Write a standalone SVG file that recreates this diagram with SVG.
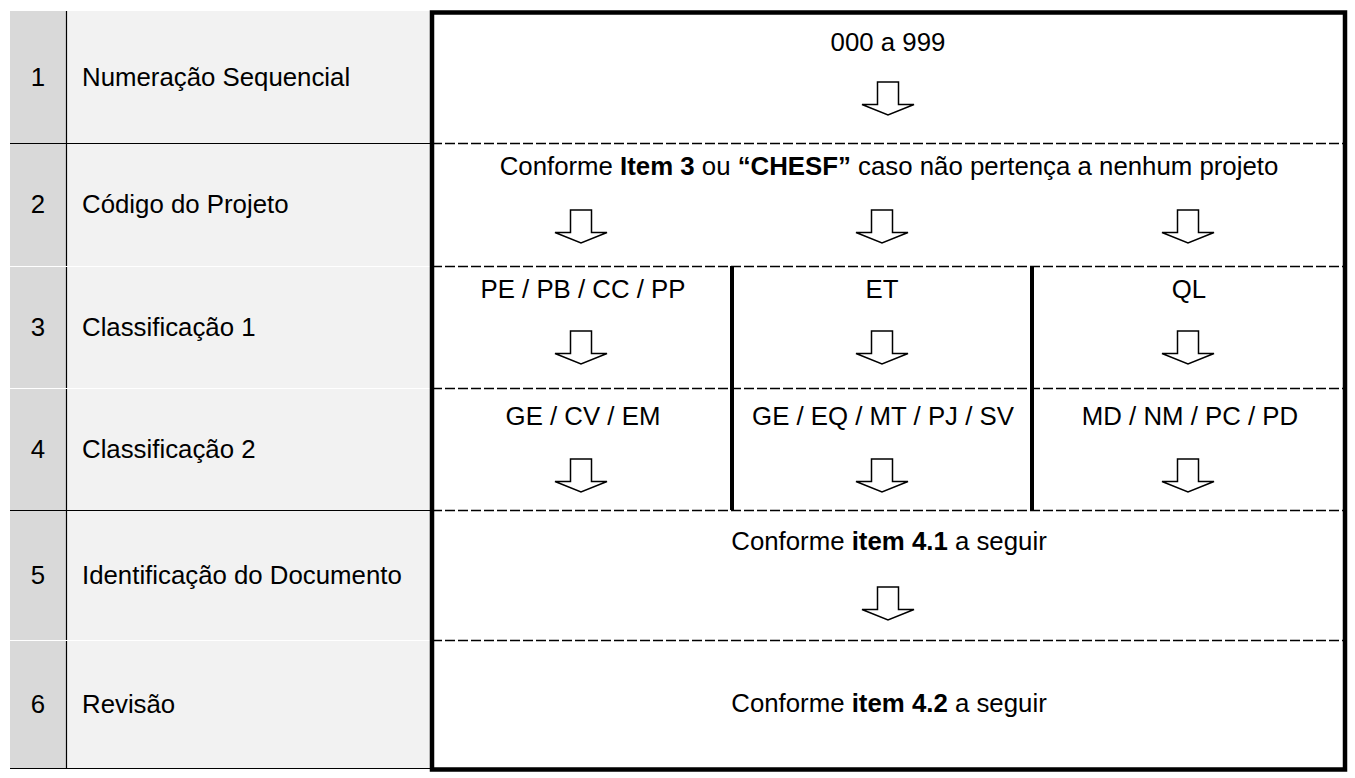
<svg xmlns="http://www.w3.org/2000/svg" width="1355" height="778" viewBox="0 0 1355 778">
<style>
  text { font-family: "Liberation Sans", Arial, sans-serif; font-size: 25.8px; fill: #000; }
  .c { text-anchor: middle; }
  .b { font-weight: bold; }
  .grid { stroke: #000; stroke-width: 1.2; fill: none; }
  .wgrid { stroke: #fff; stroke-width: 1.2; fill: none; }
  .dash { stroke: #000; stroke-width: 1.3; stroke-dasharray: 10 3; fill: none; }
  .thick { stroke: #000; stroke-width: 4.5; fill: none; }
  .div { stroke: #000; stroke-width: 4; }
</style>
<defs>
  <path id="arr" d="M-10.5,0 H10.5 V22.5 H26 L0,33 L-26,22.5 H-10.5 Z" fill="#fff" stroke="#000" stroke-width="1.5" stroke-linejoin="miter"/>
</defs>
<rect width="1355" height="778" fill="#fff"/>

<g id="left-table">
  <rect x="10" y="11" width="56" height="757" fill="#d9d9d9"/>
  <rect x="66" y="11" width="364" height="757" fill="#f2f2f2"/>
  <line class="grid" x1="66.5" y1="11" x2="66.5" y2="768"/>
  <line class="grid" x1="10" y1="143.5" x2="430" y2="143.5"/>
  <line class="wgrid" x1="10" y1="266.5" x2="430" y2="266.5"/>
  <line class="wgrid" x1="10" y1="388.5" x2="430" y2="388.5"/>
  <line class="grid" x1="10" y1="510.5" x2="430" y2="510.5"/>
  <line class="wgrid" x1="10" y1="640.5" x2="430" y2="640.5"/>
  <line class="grid" x1="10" y1="768.5" x2="430" y2="768.5"/>
</g>

<g id="row1-label"><text class="c" x="38" y="86">1</text><text x="82" y="86">Numeração Sequencial</text></g>
<g id="row2-label"><text class="c" x="38" y="213">2</text><text x="82" y="213">Código do Projeto</text></g>
<g id="row3-label"><text class="c" x="38" y="336">3</text><text x="82" y="336">Classificação 1</text></g>
<g id="row4-label"><text class="c" x="38" y="458">4</text><text x="82" y="458">Classificação 2</text></g>
<g id="row5-label"><text class="c" x="38" y="584">5</text><text x="82" y="584">Identificação do Documento</text></g>
<g id="row6-label"><text class="c" x="38" y="713">6</text><text x="82" y="713">Revisão</text></g>

<g id="right-box">
  <line class="dash" x1="432" y1="143.5" x2="1345" y2="143.5"/>
  <line class="dash" x1="432" y1="266.5" x2="1345" y2="266.5"/>
  <line class="dash" x1="432" y1="388.5" x2="1345" y2="388.5"/>
  <line class="dash" x1="432" y1="510.5" x2="1345" y2="510.5"/>
  <line class="dash" x1="432" y1="640.5" x2="1345" y2="640.5"/>
  <line class="div" x1="732" y1="266" x2="732" y2="510"/>
  <line class="div" x1="1032" y1="266" x2="1032" y2="510"/>
  <rect class="thick" x="432" y="12.5" width="913" height="757"/>
</g>

<g id="n-seq"><text class="c" x="888" y="51">000 a 999</text></g>
<g id="n-proj"><text class="c" x="889" y="175">Conforme <tspan class="b">Item 3</tspan> ou <tspan class="b">“CHESF”</tspan> caso não pertença a nenhum projeto</text></g>
<g id="n-c1a"><text class="c" x="583" y="298">PE / PB / CC / PP</text></g>
<g id="n-c1b"><text class="c" x="882" y="298">ET</text></g>
<g id="n-c1c"><text class="c" x="1189" y="298">QL</text></g>
<g id="n-c2a"><text class="c" x="583" y="425">GE / CV / EM</text></g>
<g id="n-c2b"><text class="c" x="883" y="425">GE / EQ / MT / PJ / SV</text></g>
<g id="n-c2c"><text class="c" x="1190" y="425">MD / NM / PC / PD</text></g>
<g id="n-doc"><text class="c" x="889" y="550">Conforme <tspan class="b">item 4.1</tspan> a seguir</text></g>
<g id="n-rev"><text class="c" x="889" y="712">Conforme <tspan class="b">item 4.2</tspan> a seguir</text></g>

<g id="connectors">
  <use href="#arr" x="888" y="82"/>
  <use href="#arr" x="581" y="210"/>
  <use href="#arr" x="882" y="210"/>
  <use href="#arr" x="1188" y="210"/>
  <use href="#arr" x="581" y="331"/>
  <use href="#arr" x="882" y="331"/>
  <use href="#arr" x="1188" y="331"/>
  <use href="#arr" x="581" y="459"/>
  <use href="#arr" x="882" y="459"/>
  <use href="#arr" x="1188" y="459"/>
  <use href="#arr" x="888" y="587"/>
</g>
</svg>
